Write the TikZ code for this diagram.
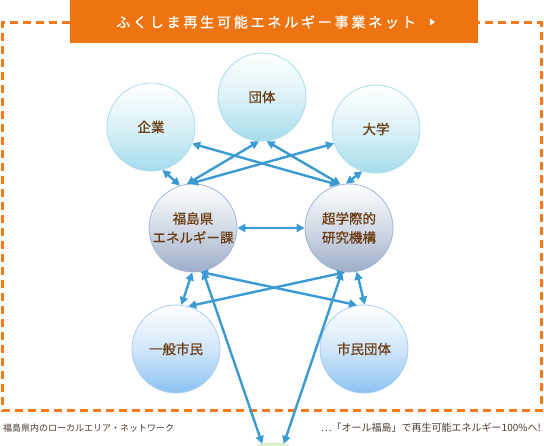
\documentclass[tikz,border=0pt]{standalone}
\usepackage{fontspec}
\setmainfont{Noto Sans CJK JP}
\newfontfamily\bannerfont[LetterSpace=20,FakeBold=1.2]{Noto Sans CJK JP}
\newfontfamily\labelfont[FakeBold=0.8]{Noto Sans CJK JP}
\usetikzlibrary{arrows.meta}
\definecolor{orangeban}{HTML}{EE7412}
\definecolor{orangedash}{HTML}{F57A1E}
\definecolor{arrowc}{HTML}{3A9AD2}
\definecolor{labelc}{HTML}{6A3C12}
\definecolor{notec}{HTML}{4A3A30}
\definecolor{cyanb}{HTML}{A4DCEC}
\definecolor{cyanl}{HTML}{A9DCEA}
\definecolor{grayb}{HTML}{9DAEC8}
\definecolor{grayl}{HTML}{A5B4DA}
\definecolor{blueb}{HTML}{8CC2F2}
\definecolor{bluel}{HTML}{A8D0F0}
\definecolor{greenb}{HTML}{C6E8AE}
\tikzset{
  circ/.style={circle, minimum size=88pt, inner sep=0pt, line width=0.8pt,
    font=\labelfont\fontsize{13.5}{19}\selectfont, text=labelc, align=center},
  cyanball/.style={circ, draw=cyanl, top color=white, bottom color=cyanb, middle color=cyanb!40},
  grayball/.style={circ, draw=grayl, top color=white, bottom color=grayb, middle color=grayb!45},
  blueball/.style={circ, draw=bluel, top color=white, bottom color=blueb, middle color=blueb!40},
  greenball/.style={circ, draw=greenb, top color=greenb!55, bottom color=greenb},
  conn/.style={draw=arrowc, line width=2.4pt,
    {Triangle[length=8pt,width=8pt]}-{Triangle[length=8pt,width=8pt]}},
  note/.style={text=notec, inner sep=0pt}
}
\begin{document}
\begin{tikzpicture}[x=1pt,y=-1pt]
\useasboundingbox (0,0) rectangle (544,446);
\clip (0,0) rectangle (544,446);
% dashed frame
\draw[orangedash, line width=3pt, dash pattern=on 8pt off 5pt]
  (70,23) -- (2.5,23) -- (2.5,411) -- (541,411) -- (541,23) -- (478,23);
% circles
\node[cyanball] (kigyo) at (151,127) {企業};
\node[cyanball] (dantai) at (262,97) {団体};
\node[cyanball] (daigaku) at (376,129) {大学};
\node[grayball] (ken) at (193,228) {福島県\\エネルギー課};
\node[grayball] (cho) at (349,228) {超学際的\\研究機構};
\node[blueball] (shimin) at (176,349) {一般市民};
\node[blueball] (shimindantai) at (364,349) {市民団体};
\node[greenball] (bottom) at (273,487) {};
% connectors
\draw[conn] (kigyo.-75) -- (ken.107);
\draw[conn] (kigyo.-22) -- (cho.104);
\draw[conn] (dantai.-94) -- (ken.98);
\draw[conn] (dantai.-84) -- (cho.101);
\draw[conn] (daigaku.199) -- (ken.94);
\draw[conn] (daigaku.-108) -- (cho.94);
\draw[conn] (ken.0) -- (cho.180);
\draw[conn] (ken.-91) -- (shimin.83);
\draw[conn] (ken.-81) -- (shimindantai.99);
\draw[conn] (cho.-95) -- (shimin.74);
\draw[conn] (cho.-80) -- (shimindantai.89);
\draw[conn] (ken.-77) -- (bottom.104);
\draw[conn] (cho.-99) -- (bottom.76);
% banner
\fill[orangeban] (70,0) rectangle (478,43);
\node[text=white, font=\bannerfont\fontsize{14}{16}\selectfont, inner sep=0pt] (title) at (266,22) {ふくしま再生可能エネルギー事業ネット};
\fill[white] (430,18.5) -- (435,22) -- (430,25.5) -- cycle;
% notes
\node[note, font=\fontsize{9}{11}\selectfont, anchor=west] (leftnote) at (3,428) {福島県内のローカルエリア・ネットワーク};
\node[note, font=\fontsize{10}{12}\selectfont, anchor=east] (rightnote) at (541,428) {…「オール福島」で再生可能エネルギー100\%へ!};
\end{tikzpicture}
\end{document}
